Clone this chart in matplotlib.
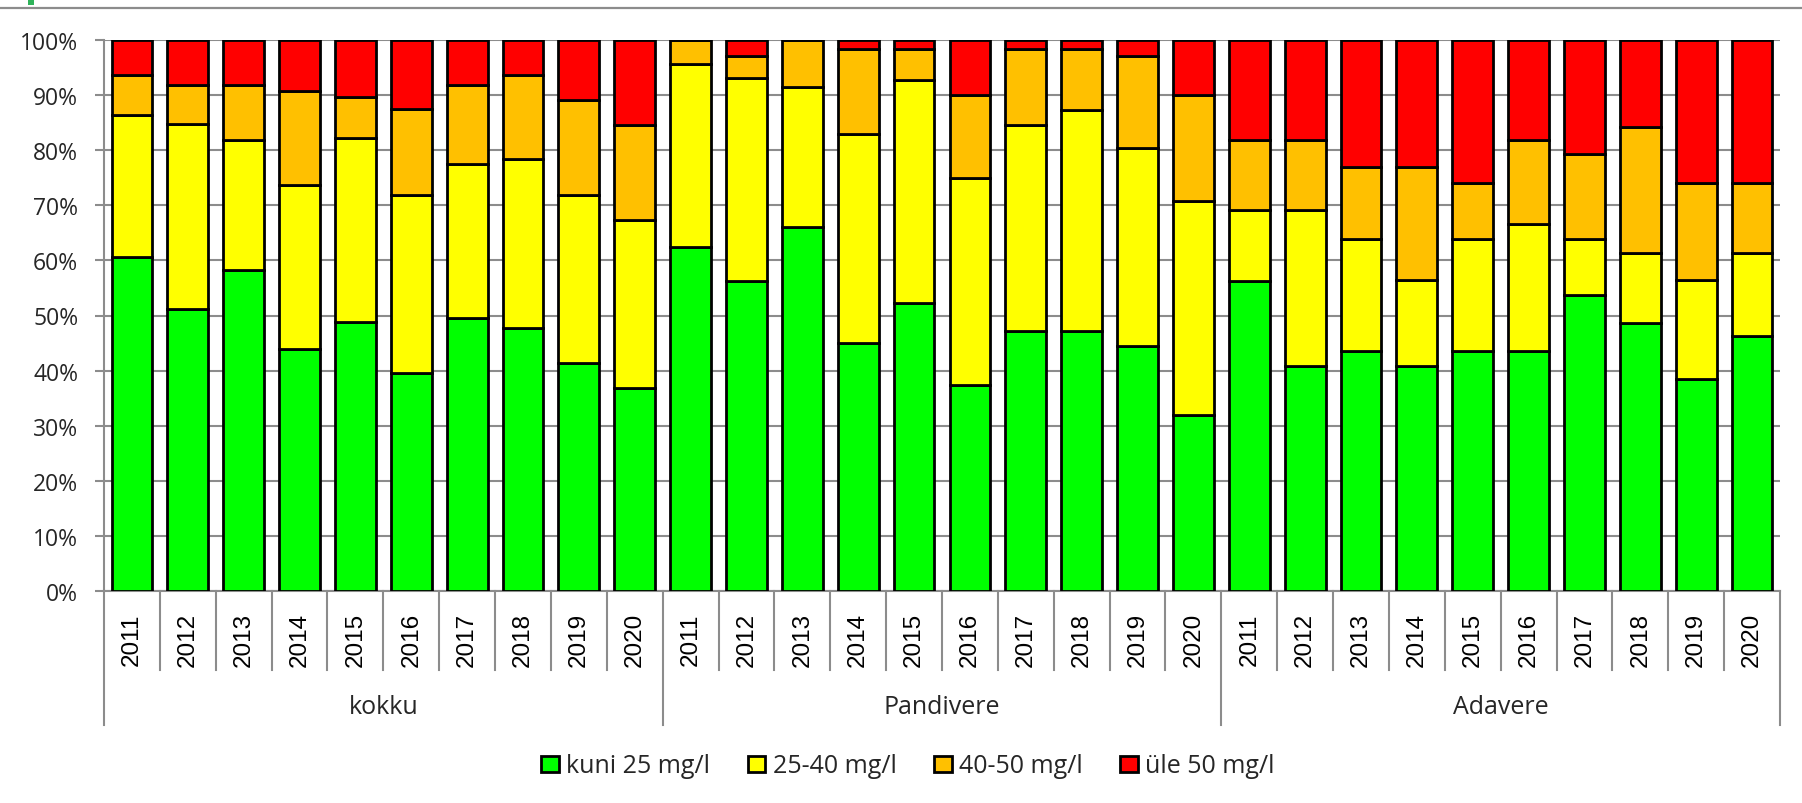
import numpy as np
import matplotlib
matplotlib.use("Agg")
import matplotlib.pyplot as plt
from matplotlib.patches import Patch, Rectangle
from matplotlib.lines import Line2D
from matplotlib.transforms import blended_transform_factory

# Nitrate concentration classes, share of samples (%) per year and area
years = ["2011", "2012", "2013", "2014", "2015", "2016", "2017", "2018", "2019", "2020"]
groups = ["kokku", "Pandivere", "Adavere"]
series_names = ["kuni 25 mg/l", "25-40 mg/l", "40-50 mg/l", "üle 50 mg/l"]
series_colors = ["#00FF00", "#FFFF00", "#FFC000", "#FF0000"]

kokku_lt25 = [60.6, 51.2, 58.3, 43.9, 48.9, 39.5, 49.5, 47.7, 41.4, 36.9]
kokku_25_40 = [25.8, 33.6, 23.6, 29.8, 33.4, 32.4, 28.0, 30.7, 30.5, 30.5]
kokku_40_50 = [7.2, 7.1, 10.0, 17.1, 7.3, 15.5, 14.4, 15.2, 17.2, 17.2]
kokku_gt50 = [6.4, 8.1, 8.1, 9.2, 10.4, 12.6, 8.1, 6.4, 10.9, 15.4]

pandivere_lt25 = [62.4, 56.2, 66.1, 45.0, 52.2, 37.4, 47.2, 47.2, 44.5, 32.0]
pandivere_25_40 = [33.2, 36.9, 25.4, 37.9, 40.5, 37.5, 37.4, 40.1, 35.9, 38.7]
pandivere_40_50 = [4.4, 4.0, 8.5, 15.5, 5.7, 15.2, 13.8, 11.1, 16.7, 19.4]
pandivere_gt50 = [0.0, 2.9, 0.0, 1.6, 1.6, 9.9, 1.6, 1.6, 2.9, 9.9]

adavere_lt25 = [56.3, 40.9, 43.5, 40.9, 43.5, 43.5, 53.7, 48.7, 38.4, 46.2]
adavere_25_40 = [12.8, 28.2, 20.4, 15.5, 20.4, 23.1, 10.2, 12.7, 18.0, 15.2]
adavere_40_50 = [12.8, 12.8, 13.0, 20.5, 10.2, 15.3, 15.4, 22.9, 17.7, 12.7]
adavere_gt50 = [18.1, 18.1, 23.1, 23.1, 25.9, 18.1, 20.7, 15.7, 25.9, 25.9]

series = [
    np.array(kokku_lt25 + pandivere_lt25 + adavere_lt25),
    np.array(kokku_25_40 + pandivere_25_40 + adavere_25_40),
    np.array(kokku_40_50 + pandivere_40_50 + adavere_40_50),
    np.array(kokku_gt50 + pandivere_gt50 + adavere_gt50),
]

W, H = 1802, 804
fig = plt.figure(figsize=(W / 100, H / 100), dpi=100)
fig.patch.set_facecolor("white")

ax_left, ax_right, ax_top, ax_bottom = 104, 1780, 41, 592
ax = fig.add_axes([ax_left / W, 1 - ax_bottom / H, (ax_right - ax_left) / W, (ax_bottom - ax_top) / H])

GRID = "#8c8c8c"
TXT = "#262626"
label_font = ["Open Sans", "DejaVu Sans"]
year_font = ["Liberation Sans", "DejaVu Sans"]

n = len(series[0])
x = np.arange(n)
bottom = np.zeros(n)
for vals, col, name in zip(series, series_colors, series_names):
    ax.bar(x, vals, bottom=bottom, width=0.73, color=col, edgecolor="black",
           linewidth=2.0, label=name, zorder=3)
    bottom += vals

ax.set_xlim(-0.5, n - 0.5)
ax.set_ylim(0, 100)
ax.set_yticks(np.arange(0, 101, 10))
ax.set_yticklabels([f"{v}%" for v in range(0, 101, 10)], fontfamily=label_font,
                   fontsize=16.5, color=TXT)
ax.tick_params(axis="y", length=6.5, width=1.5, color=GRID, pad=12)
ax.set_xticks([])
ax.yaxis.grid(True, color=GRID, linewidth=1.5)
ax.set_axisbelow(True)
for s in ["top", "right"]:
    ax.spines[s].set_visible(False)
for s in ["left", "bottom"]:
    ax.spines[s].set_color(GRID)
    ax.spines[s].set_linewidth(1.5)

# Two-level category axis below the plot
trans = blended_transform_factory(ax.transData, ax.transAxes)
ax_h = ax_bottom - ax_top


def yfrac(py):
    return (ax_bottom - py) / ax_h


n_years = len(years)
for k in range(n + 1):
    xb = k - 0.5
    is_group_edge = (k % n_years == 0)
    y_end = yfrac(726) if is_group_edge else yfrac(671)
    ax.add_line(Line2D([xb, xb], [0, y_end], transform=trans, color=GRID,
                       linewidth=1.5, clip_on=False))

for i in range(n):
    ax.text(i, yfrac(640), years[i % n_years], transform=trans, rotation=90,
            ha="center", va="center", fontsize=17.5, fontfamily=year_font, color="black")

for g, name in enumerate(groups):
    xc = g * n_years + (n_years - 1) / 2
    ax.text(xc, yfrac(708), name, transform=trans, ha="center", va="center",
            fontsize=18, fontfamily=label_font, color=TXT)

handles = [Patch(facecolor=c, edgecolor="black", linewidth=2.0) for c in series_colors]
leg = fig.legend(handles, series_names, loc="center", ncol=4,
                 bbox_to_anchor=(908 / W, 1 - 767 / H), frameon=False,
                 prop={"family": label_font, "size": 18},
                 handlelength=0.7, handleheight=0.62, handletextpad=0.3,
                 columnspacing=1.5, borderaxespad=0, borderpad=0)
for t in leg.get_texts():
    t.set_color(TXT)

# Sheet border line and selection mark at the top edge
fig.add_artist(Line2D([0, 1], [1 - 9 / H, 1 - 9 / H], transform=fig.transFigure,
                      color=GRID, linewidth=1.6))
fig.add_artist(Rectangle((28 / W, 1 - 6 / H), 6 / W, 6 / H, transform=fig.transFigure,
                         facecolor="#2fb35a", edgecolor="none"))

fig.savefig("out.png", dpi=100, facecolor="white")
